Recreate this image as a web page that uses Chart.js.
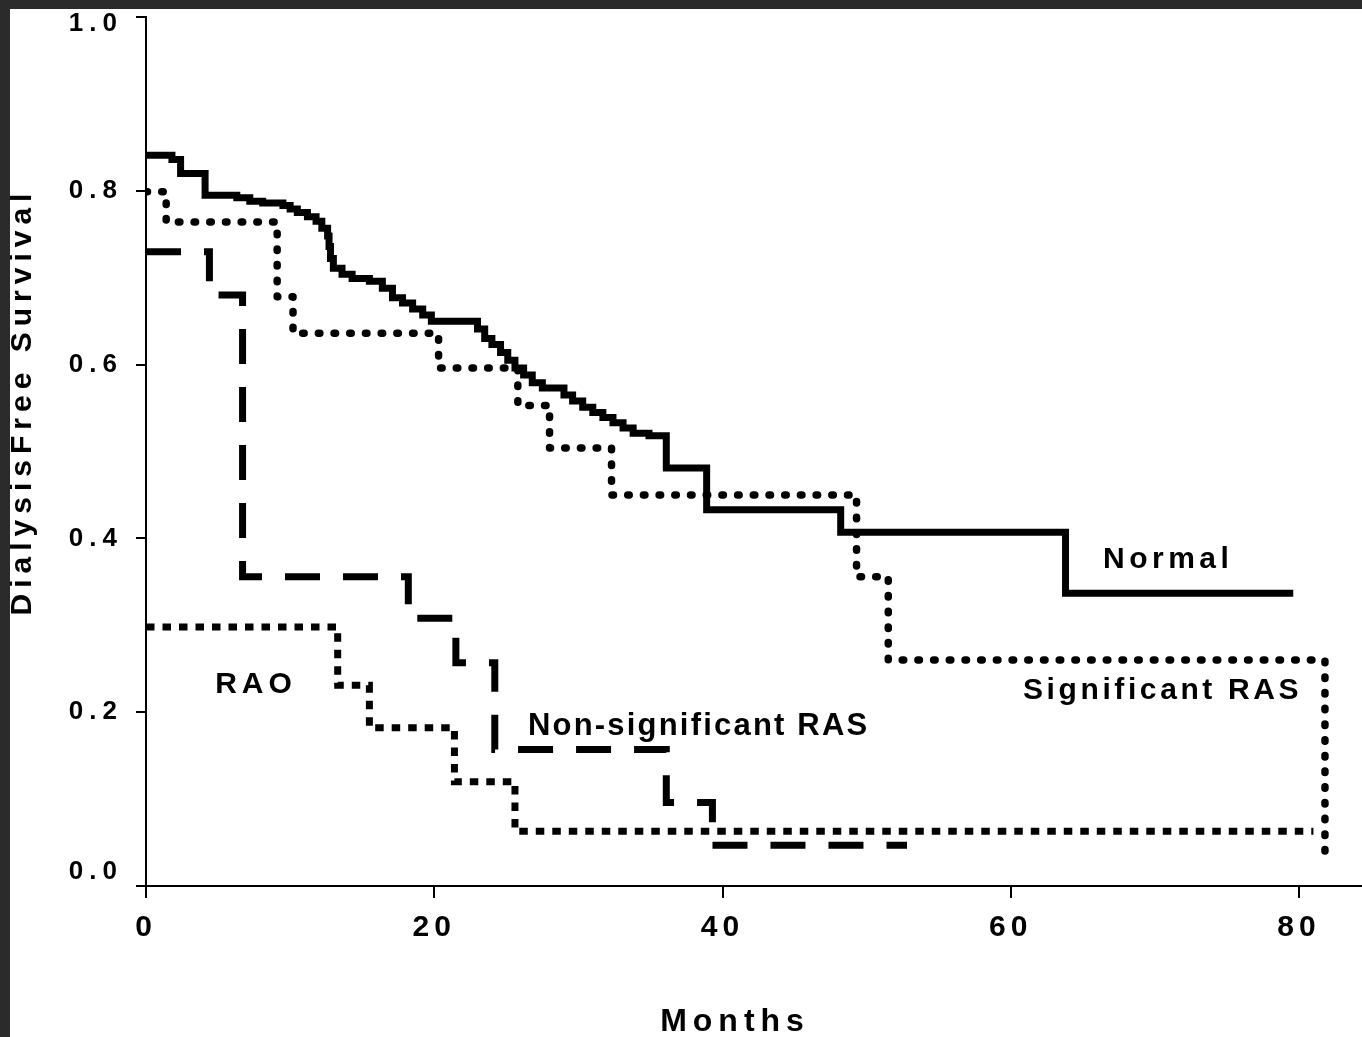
<!DOCTYPE html>
<html><head><meta charset="utf-8">
<script src="https://cdn.jsdelivr.net/npm/chart.js@4/dist/chart.umd.min.js"></script>
<style>
html,body{margin:0;padding:0;background:#2b2b2b;width:1362px;height:1037px;overflow:hidden;}
#wrap{position:absolute;left:10px;top:9px;width:1352px;height:1028px;background:#fff;}
canvas{display:block;}
</style></head><body>
<div id="wrap"><canvas id="c" width="1352" height="1028"></canvas></div>
<script>
// ---------- data ----------
const xTicks = [0, 20, 40, 60, 80];
const yTicks = [0, 0.2, 0.4, 0.6, 0.8, 1.0];

const normalMonths   = [0, 1.8, 2.4, 4.1, 6.3, 7.2, 8.1, 9.5, 10.0, 10.5, 11.2, 11.8, 12.2, 12.6, 12.7, 12.8, 13.0, 13.6, 14.3, 15.5, 16.4, 17.1, 17.8, 18.5, 19.2, 19.8, 23.0, 23.5, 24.0, 24.6, 25.1, 25.6, 26.2, 26.8, 27.5, 29.0, 29.6, 30.3, 31.0, 31.7, 32.4, 33.1, 33.8, 34.9, 36.1, 38.9, 48.2, 63.8, 79.6];
const normalSurvival = [0.841, 0.836, 0.820, 0.795, 0.792, 0.788, 0.786, 0.783, 0.779, 0.775, 0.770, 0.765, 0.757, 0.748, 0.736, 0.722, 0.711, 0.704, 0.699, 0.696, 0.688, 0.677, 0.671, 0.664, 0.657, 0.650, 0.641, 0.630, 0.623, 0.614, 0.605, 0.596, 0.588, 0.579, 0.573, 0.565, 0.558, 0.551, 0.545, 0.539, 0.533, 0.527, 0.521, 0.518, 0.481, 0.433, 0.407, 0.337, 0.337];

const sigRasMonths   = [0, 1.4, 9.1, 10.2, 20.3, 25.8, 28.0, 32.3, 49.3, 51.5, 81.8];
const sigRasSurvival = [0.799, 0.764, 0.678, 0.636, 0.596, 0.553, 0.504, 0.450, 0.356, 0.260, 0.032];

const nonSigRasMonths   = [0, 4.4, 6.7, 18.2, 21.5, 24.2, 36.1, 39.3, 52.8];
const nonSigRasSurvival = [0.730, 0.680, 0.356, 0.308, 0.257, 0.157, 0.096, 0.047, 0.047];

const raoMonths   = [0, 13.3, 15.5, 21.4, 25.6, 81.0];
const raoSurvival = [0.298, 0.231, 0.182, 0.120, 0.063, 0.063];

// ---------- styling / annotation config ----------
const FAMILY = '"Liberation Sans", Arial, Helvetica, sans-serif';
const curveLabels = [
  {text: 'Normal',              month: 66.4, surv: 0.366, size: 30, spacing: 4.5},
  {text: 'Significant RAS',     month: 60.85, surv: 0.215, size: 30, spacing: 3.6},
  {text: 'Non-significant RAS', month: 26.5, surv: 0.174, size: 31, spacing: 2.2},
  {text: 'RAO',                 month: 4.8,  surv: 0.222, size: 30, spacing: 5}
];
const yLabelShift = {'1.0': 7, '0.0': -14};

function pts(xs, ys) { return xs.map((m, i) => ({x: m, y: ys[i]})); }

const patchPlugin = {
  id: 'patch',
  beforeDraw(chart) {
    const ctx = chart.ctx;
    const cfg = {
      x: {labels: '5px', title: '6px', shift: [-19, 1]},
      y: {labels: '6px', title: '6px', shift: [-2, -50]}
    };
    for (const id of ['x', 'y']) {
      const s = chart.scales[id];
      if (s._patched) continue;
      s._patched = true;
      const c = cfg[id];
      const dl = s.drawLabels.bind(s);
      s.drawLabels = function (area) { ctx.save(); ctx.letterSpacing = c.labels; dl(area); ctx.restore(); };
      const dt = s.drawTitle.bind(s);
      s.drawTitle = function () { ctx.save(); ctx.letterSpacing = c.title; ctx.translate(c.shift[0], c.shift[1]); dt(); ctx.restore(); };
      if (id === 'y') {
        const gli = s.getLabelItems.bind(s);
        s.getLabelItems = function (area) {
          return gli(area).map(it => {
            const d = yLabelShift[it.label] || 0;
            if (!d) return it;
            const t = it.options.translation;
            return Object.assign({}, it, {options: Object.assign({}, it.options, {translation: [t[0], t[1] + d]})});
          });
        };
      }
    }
  },
  afterDatasetsDraw(chart) {
    const ctx = chart.ctx, xs = chart.scales.x, ys = chart.scales.y;
    for (const l of curveLabels) {
      ctx.save();
      ctx.font = `bold ${l.size}px ${FAMILY}`;
      ctx.letterSpacing = l.spacing + 'px';
      ctx.fillStyle = '#000';
      ctx.textAlign = 'left';
      ctx.textBaseline = 'alphabetic';
      ctx.fillText(l.text, xs.getPixelForValue(l.month), ys.getPixelForValue(l.surv));
      ctx.restore();
    }
  }
};

Chart.defaults.color = '#000';
Chart.defaults.font.family = FAMILY;

new Chart(document.getElementById('c'), {
  type: 'line',
  data: {
    datasets: [
      {label: 'Normal', data: pts(normalMonths, normalSurvival), borderColor: '#000', borderWidth: 7,
       stepped: 'before', pointRadius: 0, fill: false, borderCapStyle: 'butt', borderJoinStyle: 'miter'},
      {label: 'Significant RAS', data: pts(sigRasMonths, sigRasSurvival), borderColor: '#000', borderWidth: 7.5,
       stepped: 'before', pointRadius: 0, fill: false, borderDash: [1.5, 14.2], borderCapStyle: 'round', borderJoinStyle: 'round'},
      {label: 'Non-significant RAS', data: pts(nonSigRasMonths, nonSigRasSurvival), borderColor: '#000', borderWidth: 7,
       stepped: 'before', pointRadius: 0, fill: false, borderDash: [35, 23], borderCapStyle: 'butt', borderJoinStyle: 'miter'},
      {label: 'RAO', data: pts(raoMonths, raoSurvival), borderColor: '#000', borderWidth: 7,
       stepped: 'before', pointRadius: 0, fill: false, borderDash: [8.5, 8], borderCapStyle: 'butt', borderJoinStyle: 'miter'}
    ]
  },
  options: {
    responsive: false,
    animation: false,
    devicePixelRatio: 1,
    layout: {padding: {top: 8, right: 0, bottom: 0, left: 0}},
    plugins: {legend: {display: false}, tooltip: {enabled: false}},
    scales: {
      x: {
        type: 'linear', position: 'bottom', min: 0, max: 84.37,
        afterBuildTicks: s => { s.ticks = xTicks.map(v => ({value: v})); },
        afterFit: s => { s.height = 151; s.paddingLeft = 0; s.paddingRight = 0; },
        ticks: {font: {size: 30, weight: 'bold'}, color: '#000', padding: 12, maxRotation: 0, autoSkip: false,
                callback: v => String(v)},
        grid: {display: true, drawOnChartArea: false, drawTicks: true, tickLength: 12, color: '#000', lineWidth: 2},
        border: {display: true, color: '#000', width: 2},
        title: {display: true, text: 'Months', color: '#000', font: {size: 32, weight: 'bold', lineHeight: 1}, padding: 0}
      },
      y: {
        type: 'linear', position: 'left', min: 0, max: 1,
        afterBuildTicks: s => { s.ticks = yTicks.map(v => ({value: v})); },
        afterFit: s => { s.width = 136; s.paddingTop = 0; s.paddingBottom = 0; },
        ticks: {font: {size: 26, weight: 'bold'}, color: '#000', padding: 13, callback: v => Number(v).toFixed(1)},
        grid: {display: true, drawOnChartArea: false, drawTicks: true, tickLength: 10, color: '#000', lineWidth: 2},
        border: {display: true, color: '#000', width: 2},
        title: {display: true, text: 'DialysisFree Survival', color: '#000', font: {size: 30, weight: 'bold', lineHeight: 1}, padding: 0}
      }
    }
  },
  plugins: [patchPlugin]
});
</script>
</body></html>
